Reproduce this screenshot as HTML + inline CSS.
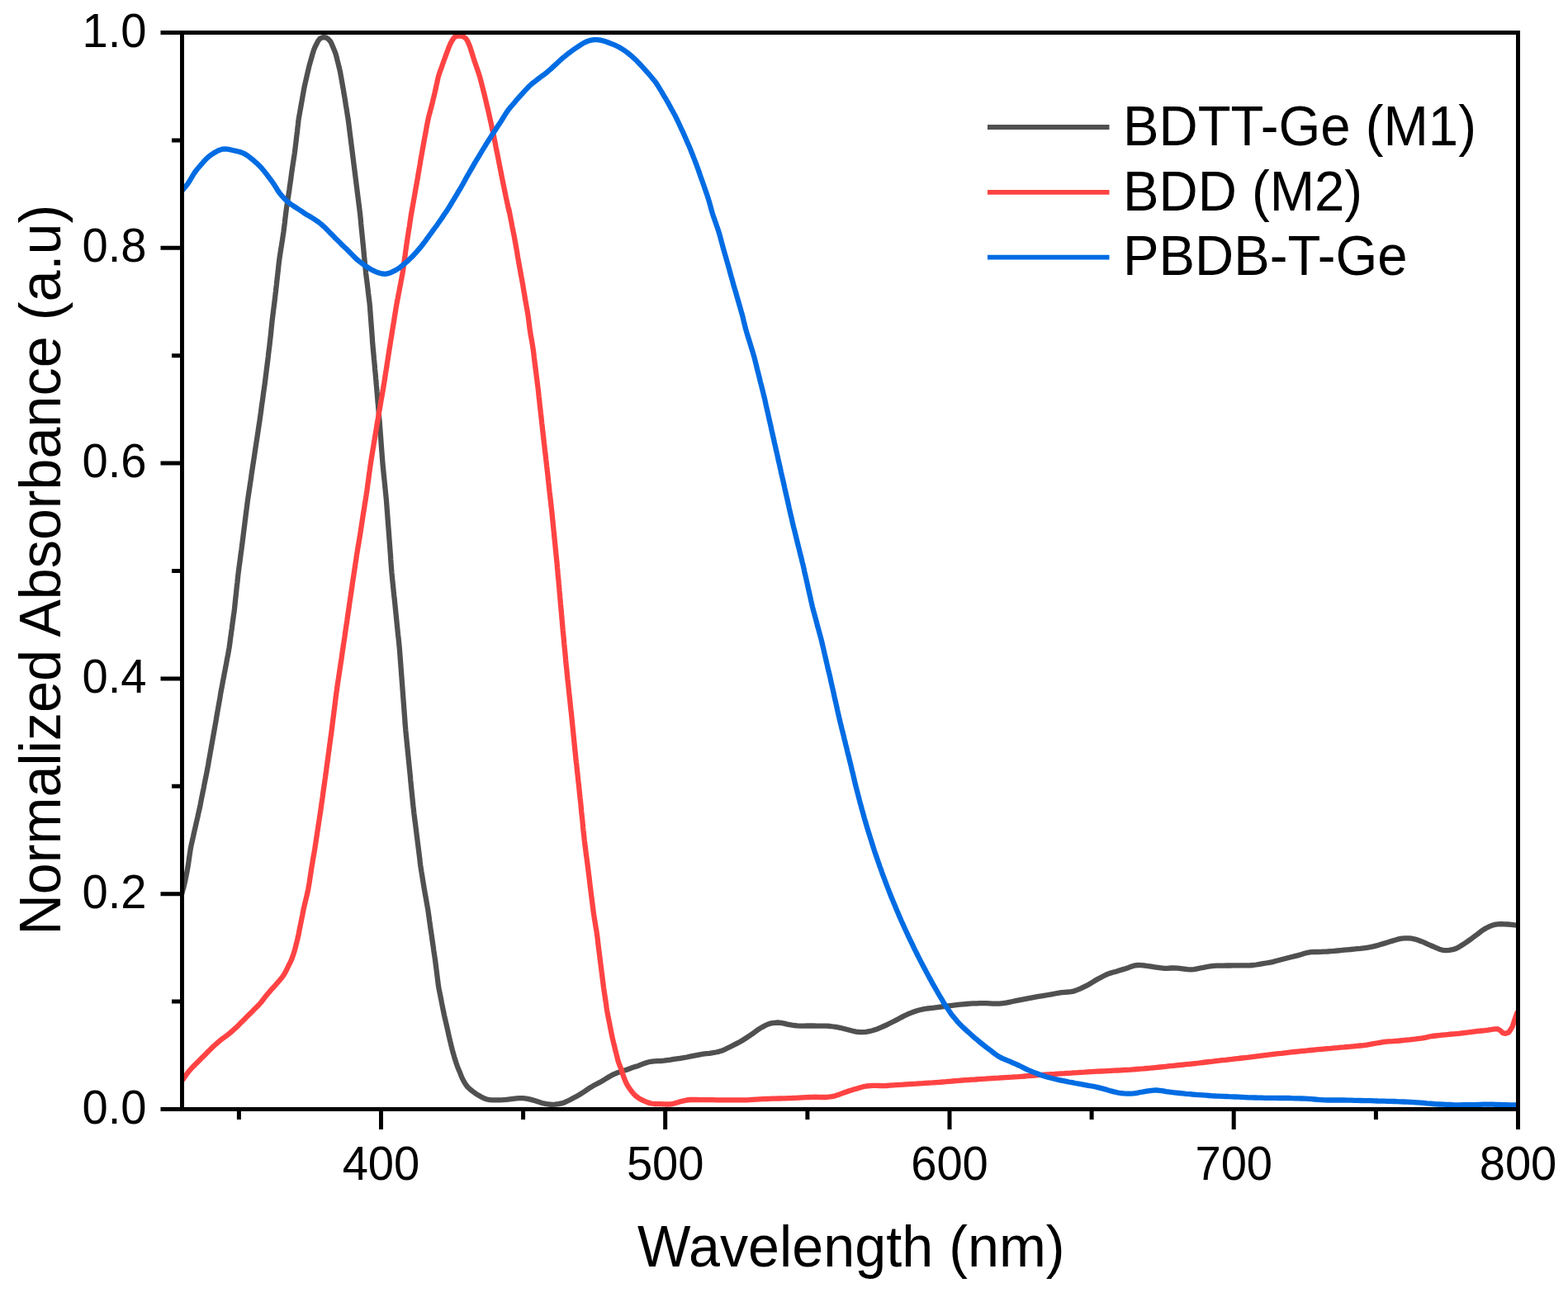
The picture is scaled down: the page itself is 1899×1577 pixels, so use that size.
<!DOCTYPE html>
<html><head><meta charset="utf-8"><title>Normalized Absorbance vs Wavelength</title><style>html,body{margin:0;padding:0;background:#fff;overflow:hidden}svg{display:block}</style></head><body>
<svg width="1899" height="1577" viewBox="0 0 1899 1577">
<rect width="1899" height="1577" fill="#fff"/>
<defs><clipPath id="c"><rect x="220.5" y="31.5" width="1618.0" height="1312.0"/></clipPath></defs>
<path d="M220.0,1083.5 L221.0,1079.6 L222.1,1075.8 L223.1,1071.9 L224.0,1068.0 L224.8,1064.1 L225.6,1060.2 L226.4,1056.2 L227.1,1052.3 L227.8,1048.4 L228.4,1044.4 L228.9,1040.5 L229.5,1036.5 L230.1,1032.5 L230.7,1028.6 L231.4,1024.6 L232.3,1020.7 L233.2,1016.8 L234.1,1012.9 L234.9,1009.0 L235.8,1005.1 L236.7,1001.2 L237.6,997.3 L238.5,993.4 L239.4,989.5 L240.2,985.6 L241.1,981.7 L242.0,977.8 L242.8,973.9 L243.5,970.0 L244.3,966.0 L245.1,962.1 L245.9,958.2 L246.7,954.3 L247.4,950.3 L248.2,946.4 L249.0,942.5 L249.8,938.6 L250.6,934.6 L251.3,930.7 L252.1,926.8 L252.7,922.8 L253.4,918.9 L254.1,915.0 L254.8,911.0 L255.5,907.1 L256.2,903.1 L256.9,899.2 L257.6,895.2 L258.3,891.3 L259.0,887.4 L259.7,883.4 L260.4,879.5 L261.1,875.5 L261.8,871.6 L262.4,867.7 L263.1,863.7 L263.8,859.8 L264.5,855.8 L265.2,851.9 L265.9,848.0 L266.6,844.0 L267.2,840.1 L267.9,836.1 L268.7,832.2 L269.4,828.3 L270.1,824.3 L270.9,820.4 L271.6,816.5 L272.4,812.5 L273.1,808.6 L273.9,804.7 L274.6,800.7 L275.3,796.8 L276.1,792.9 L276.8,788.9 L277.5,785.0 L278.1,781.0 L278.6,777.1 L279.1,773.1 L279.7,769.1 L280.2,765.2 L280.8,761.2 L281.3,757.2 L281.8,753.3 L282.4,749.3 L282.9,745.4 L283.5,741.4 L284.0,737.4 L284.4,733.4 L284.8,729.5 L285.2,725.5 L285.7,721.5 L286.1,717.5 L286.5,713.5 L286.9,709.6 L287.4,705.6 L287.8,701.6 L288.2,697.6 L288.7,693.7 L289.2,689.7 L289.7,685.7 L290.3,681.8 L290.8,677.8 L291.3,673.8 L291.8,669.9 L292.4,665.9 L292.9,661.9 L293.4,658.0 L293.9,654.0 L294.4,650.0 L294.9,646.0 L295.4,642.1 L295.9,638.1 L296.4,634.1 L296.9,630.2 L297.4,626.2 L297.9,622.2 L298.4,618.2 L298.9,614.3 L299.4,610.3 L299.9,606.4 L300.5,602.4 L301.1,598.4 L301.7,594.5 L302.3,590.5 L302.9,586.6 L303.5,582.6 L304.1,578.6 L304.6,574.7 L305.2,570.7 L305.8,566.8 L306.4,562.8 L307.0,558.9 L307.6,554.9 L308.2,551.0 L308.8,547.0 L309.4,543.0 L310.0,539.1 L310.6,535.1 L311.2,531.2 L311.8,527.2 L312.4,523.3 L313.0,519.3 L313.6,515.3 L314.2,511.4 L314.8,507.4 L315.3,503.5 L315.9,499.5 L316.4,495.5 L316.9,491.6 L317.5,487.6 L318.1,483.6 L318.6,479.7 L319.1,475.7 L319.7,471.8 L320.3,467.8 L320.8,463.8 L321.3,459.9 L321.8,455.9 L322.3,451.9 L322.8,447.9 L323.3,444.0 L323.8,440.0 L324.3,436.0 L324.8,432.1 L325.2,428.1 L325.7,424.1 L326.2,420.1 L326.7,416.2 L327.1,412.2 L327.6,408.2 L328.0,404.2 L328.4,400.3 L328.8,396.3 L329.2,392.3 L329.6,388.3 L330.1,384.4 L330.6,380.4 L331.1,376.4 L331.6,372.4 L332.1,368.5 L332.6,364.5 L333.1,360.5 L333.5,356.6 L334.0,352.6 L334.4,348.6 L334.9,344.6 L335.3,340.6 L335.8,336.7 L336.2,332.7 L336.7,328.7 L337.1,324.7 L337.5,320.8 L338.0,316.8 L338.5,312.8 L339.1,308.9 L339.7,304.9 L340.3,301.0 L341.0,297.0 L341.6,293.1 L342.2,289.1 L342.8,285.1 L343.4,281.2 L343.9,277.2 L344.4,273.2 L344.9,269.3 L345.3,265.3 L345.8,261.3 L346.3,257.4 L346.8,253.4 L347.4,249.4 L348.0,245.5 L348.6,241.5 L349.2,237.6 L349.8,233.6 L350.4,229.7 L350.9,225.7 L351.5,221.7 L352.1,217.8 L352.6,213.8 L353.1,209.8 L353.7,205.9 L354.3,201.9 L354.9,197.9 L355.5,194.0 L356.1,190.1 L356.7,186.1 L357.2,182.1 L357.7,178.2 L358.2,174.2 L358.7,170.2 L359.1,166.2 L359.6,162.3 L360.1,158.3 L360.5,154.3 L361.0,150.3 L361.4,146.4 L362.0,142.4 L362.7,138.5 L363.4,134.5 L364.1,130.6 L364.8,126.6 L365.5,122.7 L366.2,118.8 L366.9,114.8 L367.6,110.9 L368.3,106.9 L369.1,103.0 L370.0,99.1 L370.9,95.2 L371.8,91.3 L372.7,87.4 L373.6,83.5 L374.5,79.6 L375.6,75.8 L376.7,71.9 L377.8,68.1 L378.9,64.2 L380.1,60.4 L381.6,56.7 L383.4,53.2 L385.2,49.6 L387.5,46.6 L391.2,45.1 L394.7,45.4 L398.0,47.7 L400.5,50.6 L402.1,54.3 L403.7,58.0 L405.3,61.7 L406.6,65.4 L407.7,69.3 L408.6,73.2 L409.6,77.0 L410.5,80.9 L411.5,84.8 L412.3,88.7 L413.0,92.7 L413.7,96.6 L414.4,100.6 L415.1,104.5 L415.8,108.4 L416.4,112.4 L417.1,116.3 L417.8,120.3 L418.4,124.2 L419.0,128.2 L419.7,132.1 L420.3,136.1 L420.9,140.0 L421.6,144.0 L422.1,147.9 L422.6,151.9 L423.1,155.9 L423.6,159.9 L424.1,163.8 L424.6,167.8 L425.1,171.8 L425.6,175.7 L426.1,179.7 L426.6,183.7 L427.1,187.7 L427.6,191.6 L428.1,195.6 L428.6,199.6 L429.1,203.5 L429.6,207.5 L430.1,211.5 L430.6,215.4 L431.1,219.4 L431.6,223.4 L432.1,227.3 L432.6,231.3 L433.1,235.3 L433.6,239.2 L434.1,243.2 L434.6,247.2 L435.1,251.2 L435.6,255.1 L436.1,259.1 L436.5,263.1 L436.9,267.1 L437.2,271.1 L437.6,275.0 L438.0,279.0 L438.4,283.0 L438.8,287.0 L439.2,291.0 L439.6,294.9 L440.0,298.9 L440.4,302.9 L440.7,306.9 L441.1,310.9 L441.5,314.9 L441.9,318.8 L442.3,322.8 L442.7,326.8 L443.1,330.8 L443.6,334.8 L444.1,338.7 L444.6,342.7 L445.1,346.7 L445.6,350.6 L446.0,354.6 L446.5,358.6 L447.0,362.6 L447.5,366.5 L447.9,370.5 L448.2,374.5 L448.5,378.5 L448.8,382.5 L449.1,386.5 L449.4,390.5 L449.7,394.4 L450.0,398.4 L450.3,402.4 L450.6,406.4 L450.9,410.4 L451.1,414.4 L451.5,418.4 L451.8,422.4 L452.2,426.4 L452.6,430.4 L452.9,434.3 L453.3,438.3 L453.7,442.3 L454.0,446.3 L454.4,450.3 L454.8,454.2 L455.1,458.2 L455.5,462.2 L455.8,466.2 L456.2,470.2 L456.5,474.2 L456.9,478.2 L457.2,482.2 L457.5,486.1 L457.9,490.1 L458.2,494.1 L458.6,498.1 L458.9,502.1 L459.2,506.1 L459.6,510.1 L459.9,514.0 L460.2,518.0 L460.5,522.0 L460.8,526.0 L461.1,530.0 L461.4,534.0 L461.7,538.0 L462.0,542.0 L462.3,546.0 L462.6,550.0 L462.9,554.0 L463.2,558.0 L463.5,561.9 L463.9,565.9 L464.3,569.9 L464.7,573.9 L465.1,577.9 L465.5,581.8 L465.9,585.8 L466.3,589.8 L466.7,593.8 L467.1,597.8 L467.5,601.8 L467.9,605.7 L468.2,609.7 L468.5,613.7 L468.8,617.7 L469.1,621.7 L469.4,625.7 L469.7,629.7 L470.0,633.7 L470.3,637.6 L470.6,641.6 L470.9,645.6 L471.2,649.6 L471.5,653.6 L471.8,657.6 L472.1,661.6 L472.4,665.6 L472.7,669.6 L473.0,673.6 L473.2,677.5 L473.5,681.5 L473.8,685.5 L474.1,689.5 L474.4,693.5 L474.8,697.5 L475.2,701.5 L475.6,705.5 L476.0,709.4 L476.4,713.4 L476.8,717.4 L477.2,721.4 L477.7,725.4 L478.1,729.3 L478.5,733.3 L478.9,737.3 L479.3,741.3 L479.7,745.3 L480.1,749.2 L480.5,753.2 L480.9,757.2 L481.3,761.2 L481.7,765.2 L482.1,769.1 L482.6,773.1 L483.0,777.1 L483.4,781.1 L483.8,785.1 L484.1,789.0 L484.4,793.0 L484.7,797.0 L485.0,801.0 L485.3,805.0 L485.6,809.0 L485.9,813.0 L486.2,817.0 L486.5,821.0 L486.8,825.0 L487.1,829.0 L487.4,833.0 L487.7,836.9 L488.0,840.9 L488.3,844.9 L488.6,848.9 L488.9,852.9 L489.2,856.9 L489.5,860.9 L489.8,864.9 L490.1,868.9 L490.4,872.9 L490.6,876.8 L491.0,880.8 L491.3,884.8 L491.7,888.8 L492.1,892.8 L492.5,896.8 L492.9,900.7 L493.3,904.7 L493.7,908.7 L494.1,912.7 L494.5,916.7 L494.9,920.6 L495.3,924.6 L495.7,928.6 L496.1,932.6 L496.5,936.6 L496.9,940.6 L497.2,944.5 L497.6,948.5 L498.0,952.5 L498.4,956.5 L498.8,960.5 L499.2,964.5 L499.6,968.4 L500.0,972.4 L500.4,976.4 L500.9,980.4 L501.3,984.3 L501.8,988.3 L502.3,992.3 L502.8,996.2 L503.3,1000.2 L503.8,1004.2 L504.3,1008.2 L504.8,1012.1 L505.3,1016.1 L505.8,1020.1 L506.3,1024.0 L506.8,1028.0 L507.3,1032.0 L507.8,1036.0 L508.3,1039.9 L508.7,1043.9 L509.2,1047.9 L509.8,1051.8 L510.4,1055.8 L511.1,1059.7 L511.7,1063.7 L512.3,1067.6 L513.0,1071.6 L513.6,1075.5 L514.3,1079.5 L515.0,1083.4 L515.7,1087.3 L516.4,1091.3 L517.1,1095.2 L517.8,1099.2 L518.5,1103.1 L519.0,1107.1 L519.6,1111.0 L520.1,1115.0 L520.7,1119.0 L521.2,1122.9 L521.8,1126.9 L522.4,1130.8 L523.0,1134.8 L523.5,1138.8 L524.1,1142.7 L524.7,1146.7 L525.2,1150.7 L525.8,1154.6 L526.4,1158.6 L527.0,1162.5 L527.5,1166.5 L528.0,1170.5 L528.5,1174.4 L529.0,1178.4 L529.5,1182.4 L530.0,1186.3 L530.5,1190.3 L531.0,1194.3 L531.7,1198.2 L532.5,1202.2 L533.3,1206.1 L534.1,1210.0 L534.8,1213.9 L535.6,1217.8 L536.4,1221.8 L537.2,1225.7 L538.0,1229.6 L538.9,1233.5 L539.8,1237.4 L540.7,1241.3 L541.6,1245.2 L542.5,1249.1 L543.3,1253.0 L544.2,1256.9 L545.1,1260.8 L546.1,1264.7 L547.0,1268.6 L548.0,1272.5 L549.1,1276.3 L550.2,1280.2 L551.4,1284.0 L552.6,1287.8 L553.9,1291.6 L555.4,1295.3 L557.0,1299.0 L558.4,1302.7 L560.0,1306.4 L561.8,1309.9 L563.9,1313.3 L566.3,1316.5 L569.2,1319.2 L572.3,1321.7 L575.5,1324.1 L578.9,1326.3 L582.3,1328.3 L585.9,1330.1 L589.6,1331.5 L593.4,1332.2 L597.4,1332.4 L601.4,1332.4 L605.4,1332.4 L609.4,1332.2 L613.4,1331.8 L617.4,1331.3 L621.4,1330.8 L625.3,1330.4 L629.3,1330.2 L633.3,1330.2 L637.3,1330.6 L641.2,1331.4 L645.0,1332.4 L648.9,1333.5 L652.7,1334.8 L656.5,1336.0 L660.4,1336.9 L664.3,1337.5 L668.3,1337.8 L672.3,1337.7 L676.2,1337.2 L680.1,1336.4 L683.9,1335.2 L687.5,1333.5 L691.1,1331.7 L694.6,1329.8 L698.1,1327.9 L701.6,1325.9 L705.1,1323.8 L708.4,1321.7 L711.7,1319.4 L715.0,1317.2 L718.5,1315.1 L722.0,1313.2 L725.5,1311.4 L729.0,1309.5 L732.5,1307.4 L735.9,1305.3 L739.3,1303.2 L742.8,1301.4 L746.5,1299.8 L750.3,1298.4 L754.1,1297.3 L757.9,1296.1 L761.6,1294.7 L765.4,1293.3 L769.2,1292.1 L773.0,1290.9 L776.7,1289.4 L780.4,1287.9 L784.2,1286.7 L788.1,1285.8 L792.1,1285.4 L796.1,1285.2 L800.1,1285.0 L804.1,1284.7 L808.0,1284.2 L812.0,1283.6 L815.9,1282.9 L819.9,1282.3 L823.8,1281.8 L827.8,1281.2 L831.7,1280.5 L835.6,1279.7 L839.6,1278.9 L843.5,1278.1 L847.4,1277.3 L851.4,1276.7 L855.3,1276.2 L859.3,1275.8 L863.3,1275.2 L867.2,1274.5 L871.1,1273.6 L874.9,1272.4 L878.5,1270.8 L882.1,1269.0 L885.7,1267.2 L889.3,1265.4 L892.8,1263.6 L896.4,1261.8 L899.8,1259.7 L903.2,1257.5 L906.5,1255.3 L909.8,1253.1 L913.1,1250.8 L916.3,1248.4 L919.6,1246.1 L923.0,1244.1 L926.6,1242.2 L930.2,1240.5 L934.0,1239.4 L937.9,1238.8 L941.9,1238.5 L945.8,1238.8 L949.7,1239.6 L953.6,1240.6 L957.6,1241.3 L961.5,1242.0 L965.5,1242.4 L969.5,1242.7 L973.5,1242.6 L977.5,1242.5 L981.5,1242.5 L985.5,1242.5 L989.5,1242.6 L993.5,1242.6 L997.5,1242.6 L1001.5,1242.7 L1005.5,1243.0 L1009.4,1243.5 L1013.4,1244.0 L1017.3,1244.8 L1021.2,1245.7 L1025.1,1246.7 L1029.0,1247.7 L1032.8,1248.7 L1036.7,1249.6 L1040.7,1250.0 L1044.7,1250.1 L1048.7,1249.8 L1052.6,1249.2 L1056.5,1248.3 L1060.3,1247.1 L1064.0,1245.7 L1067.7,1244.1 L1071.3,1242.5 L1075.0,1240.8 L1078.5,1239.0 L1082.1,1237.2 L1085.7,1235.4 L1089.2,1233.5 L1092.8,1231.6 L1096.3,1229.8 L1100.0,1228.2 L1103.7,1226.6 L1107.4,1225.2 L1111.2,1224.0 L1115.1,1223.0 L1119.0,1222.1 L1122.9,1221.5 L1126.9,1221.1 L1130.9,1220.7 L1134.9,1220.2 L1138.8,1219.6 L1142.8,1219.1 L1146.8,1218.6 L1150.7,1218.1 L1154.7,1217.6 L1158.7,1217.1 L1162.7,1216.7 L1166.6,1216.3 L1170.6,1216.0 L1174.6,1215.7 L1178.6,1215.4 L1182.6,1215.3 L1186.6,1215.1 L1190.6,1215.1 L1194.6,1215.2 L1198.6,1215.4 L1202.6,1215.6 L1206.6,1215.7 L1210.6,1215.6 L1214.6,1215.2 L1218.5,1214.6 L1222.4,1213.8 L1226.3,1213.0 L1230.3,1212.2 L1234.2,1211.4 L1238.1,1210.6 L1242.0,1209.9 L1246.0,1209.1 L1249.9,1208.3 L1253.8,1207.6 L1257.8,1206.9 L1261.7,1206.3 L1265.7,1205.7 L1269.6,1205.0 L1273.5,1204.3 L1277.5,1203.5 L1281.4,1202.8 L1285.4,1202.2 L1289.3,1201.8 L1293.3,1201.5 L1297.3,1201.1 L1301.2,1200.3 L1304.9,1198.9 L1308.6,1197.3 L1312.2,1195.6 L1315.8,1193.9 L1319.3,1192.0 L1322.8,1189.9 L1326.2,1187.8 L1329.6,1185.8 L1333.1,1183.9 L1336.7,1182.0 L1340.3,1180.3 L1344.0,1178.9 L1347.8,1177.8 L1351.7,1176.7 L1355.5,1175.5 L1359.3,1174.4 L1363.2,1173.2 L1367.0,1171.9 L1370.7,1170.5 L1374.5,1169.4 L1378.4,1169.0 L1382.4,1169.2 L1386.4,1169.5 L1390.4,1170.1 L1394.3,1170.7 L1398.3,1171.3 L1402.3,1171.9 L1406.2,1172.4 L1410.2,1172.8 L1414.2,1172.8 L1418.2,1172.5 L1422.2,1172.4 L1426.1,1172.6 L1430.1,1173.1 L1434.1,1173.6 L1438.1,1174.1 L1442.0,1174.4 L1446.0,1174.1 L1449.9,1173.4 L1453.8,1172.5 L1457.8,1171.8 L1461.7,1171.0 L1465.6,1170.4 L1469.6,1169.9 L1473.6,1169.7 L1477.6,1169.6 L1481.6,1169.6 L1485.6,1169.5 L1489.6,1169.5 L1493.6,1169.4 L1497.6,1169.4 L1501.6,1169.4 L1505.6,1169.4 L1509.6,1169.4 L1513.6,1169.4 L1517.6,1169.0 L1521.5,1168.5 L1525.5,1167.8 L1529.4,1167.1 L1533.4,1166.5 L1537.3,1165.9 L1541.2,1165.1 L1545.1,1164.0 L1549.0,1163.0 L1552.8,1162.0 L1556.7,1161.0 L1560.6,1160.0 L1564.5,1159.0 L1568.3,1158.1 L1572.2,1157.1 L1576.1,1156.0 L1579.9,1154.8 L1583.8,1153.8 L1587.7,1153.2 L1591.7,1153.0 L1595.7,1153.0 L1599.7,1152.9 L1603.7,1152.7 L1607.7,1152.5 L1611.7,1152.2 L1615.6,1151.9 L1619.6,1151.5 L1623.6,1151.1 L1627.6,1150.7 L1631.6,1150.3 L1635.5,1150.0 L1639.5,1149.6 L1643.5,1149.2 L1647.5,1148.8 L1651.5,1148.3 L1655.4,1147.8 L1659.4,1147.2 L1663.3,1146.4 L1667.2,1145.4 L1671.0,1144.2 L1674.8,1143.1 L1678.7,1141.9 L1682.5,1140.7 L1686.3,1139.6 L1690.2,1138.5 L1694.0,1137.4 L1697.9,1136.6 L1701.9,1136.3 L1705.9,1136.3 L1709.8,1136.7 L1713.7,1137.6 L1717.5,1138.8 L1721.3,1140.2 L1725.0,1141.7 L1728.6,1143.3 L1732.3,1145.0 L1736.0,1146.5 L1739.6,1148.2 L1743.3,1149.7 L1747.2,1150.8 L1751.1,1151.2 L1755.1,1150.9 L1759.0,1150.2 L1762.8,1149.1 L1766.4,1147.4 L1769.8,1145.3 L1773.2,1143.1 L1776.5,1140.9 L1779.7,1138.6 L1783.0,1136.2 L1786.2,1133.8 L1789.4,1131.5 L1792.6,1129.0 L1795.8,1126.6 L1799.1,1124.5 L1802.7,1122.7 L1806.4,1121.1 L1810.2,1119.9 L1814.0,1119.3 L1818.0,1119.2 L1822.0,1119.3 L1826.0,1119.5 L1830.0,1119.9 L1834.0,1120.3 L1838.0,1120.6" fill="none" stroke="#505050" stroke-width="6.3" stroke-linejoin="round" stroke-linecap="butt" clip-path="url(#c)"/>
<path d="M220.0,1309.5 L222.3,1306.3 L224.7,1303.0 L227.0,1299.8 L229.5,1296.6 L232.2,1293.7 L235.0,1290.8 L237.8,1288.0 L240.6,1285.2 L243.5,1282.3 L246.3,1279.5 L249.1,1276.7 L251.9,1273.8 L254.8,1271.0 L257.6,1268.2 L260.6,1265.5 L263.6,1262.8 L266.6,1260.2 L269.8,1257.8 L273.0,1255.5 L276.2,1253.1 L279.3,1250.5 L282.3,1247.9 L285.3,1245.2 L288.2,1242.4 L291.0,1239.6 L293.8,1236.8 L296.6,1234.0 L299.5,1231.1 L302.3,1228.3 L305.1,1225.5 L308.0,1222.6 L310.8,1219.8 L313.6,1217.0 L316.2,1214.0 L318.7,1210.8 L321.1,1207.6 L323.6,1204.5 L326.2,1201.4 L328.8,1198.4 L331.6,1195.5 L334.2,1192.5 L336.8,1189.5 L339.4,1186.4 L342.0,1183.3 L344.2,1180.1 L346.1,1176.6 L347.9,1173.0 L349.6,1169.4 L351.4,1165.8 L353.1,1162.2 L354.5,1158.4 L355.8,1154.6 L356.9,1150.8 L358.0,1146.9 L358.9,1143.0 L359.9,1139.2 L360.8,1135.3 L361.7,1131.4 L362.4,1127.4 L363.2,1123.5 L364.0,1119.6 L364.8,1115.7 L365.6,1111.7 L366.4,1107.8 L367.1,1103.9 L367.9,1100.0 L368.8,1096.1 L369.7,1092.2 L370.7,1088.3 L371.7,1084.4 L372.5,1080.5 L373.3,1076.6 L374.0,1072.6 L374.7,1068.7 L375.3,1064.8 L375.9,1060.8 L376.5,1056.8 L377.1,1052.9 L377.7,1048.9 L378.4,1045.0 L379.0,1041.0 L379.7,1037.1 L380.4,1033.2 L381.1,1029.2 L381.7,1025.2 L382.3,1021.3 L382.9,1017.3 L383.5,1013.4 L384.1,1009.4 L384.7,1005.5 L385.3,1001.5 L385.9,997.6 L386.5,993.6 L387.1,989.6 L387.7,985.7 L388.3,981.7 L388.9,977.8 L389.4,973.8 L390.0,969.9 L390.6,965.9 L391.1,961.9 L391.6,958.0 L392.2,954.0 L392.8,950.0 L393.3,946.1 L393.9,942.1 L394.4,938.1 L395.0,934.2 L395.5,930.2 L396.0,926.3 L396.6,922.3 L397.1,918.3 L397.6,914.4 L398.2,910.4 L398.7,906.4 L399.2,902.5 L399.8,898.5 L400.3,894.5 L400.9,890.6 L401.4,886.6 L401.9,882.6 L402.4,878.7 L402.9,874.7 L403.4,870.7 L403.9,866.8 L404.4,862.8 L404.9,858.8 L405.4,854.9 L405.9,850.9 L406.4,846.9 L406.9,842.9 L407.4,839.0 L408.0,835.0 L408.5,831.0 L409.1,827.1 L409.7,823.1 L410.3,819.2 L410.9,815.2 L411.5,811.3 L412.1,807.3 L412.7,803.3 L413.3,799.4 L413.9,795.4 L414.4,791.5 L415.0,787.5 L415.6,783.6 L416.2,779.6 L416.8,775.6 L417.4,771.7 L417.9,767.7 L418.5,763.8 L419.1,759.8 L419.7,755.8 L420.3,751.9 L420.8,747.9 L421.4,744.0 L422.0,740.0 L422.6,736.0 L423.1,732.1 L423.7,728.1 L424.3,724.2 L424.9,720.2 L425.5,716.2 L426.1,712.3 L426.6,708.3 L427.2,704.4 L427.8,700.4 L428.4,696.5 L429.0,692.5 L429.6,688.5 L430.2,684.6 L430.8,680.6 L431.4,676.7 L431.9,672.7 L432.6,668.8 L433.2,664.8 L433.9,660.9 L434.6,656.9 L435.2,653.0 L435.9,649.0 L436.5,645.1 L437.1,641.1 L437.7,637.2 L438.3,633.2 L438.9,629.3 L439.5,625.3 L440.1,621.4 L440.8,617.4 L441.4,613.5 L442.0,609.5 L442.7,605.6 L443.3,601.6 L443.9,597.6 L444.5,593.7 L445.0,589.7 L445.5,585.8 L446.1,581.8 L446.6,577.8 L447.1,573.9 L447.7,569.9 L448.2,565.9 L448.8,562.0 L449.4,558.0 L450.0,554.1 L450.7,550.1 L451.3,546.2 L452.0,542.2 L452.6,538.3 L453.3,534.3 L453.9,530.4 L454.6,526.4 L455.2,522.5 L455.9,518.5 L456.5,514.6 L457.2,510.6 L457.9,506.7 L458.5,502.8 L459.2,498.8 L459.9,494.9 L460.6,490.9 L461.2,487.0 L461.9,483.0 L462.6,479.1 L463.3,475.1 L464.0,471.2 L464.6,467.3 L465.3,463.3 L465.9,459.4 L466.5,455.4 L467.1,451.4 L467.8,447.5 L468.4,443.5 L469.0,439.6 L469.6,435.6 L470.2,431.7 L470.8,427.7 L471.4,423.8 L472.1,419.8 L472.7,415.9 L473.3,411.9 L474.0,408.0 L474.6,404.0 L475.2,400.1 L475.9,396.1 L476.5,392.2 L477.2,388.2 L477.8,384.3 L478.4,380.3 L479.1,376.4 L479.7,372.4 L480.4,368.5 L481.1,364.5 L481.9,360.6 L482.6,356.7 L483.4,352.8 L484.1,348.8 L484.9,344.9 L485.6,341.0 L486.4,337.0 L487.1,333.1 L487.8,329.2 L488.4,325.2 L488.9,321.2 L489.5,317.3 L490.0,313.3 L490.6,309.4 L491.1,305.4 L491.7,301.4 L492.2,297.5 L492.8,293.5 L493.4,289.6 L494.0,285.6 L494.6,281.6 L495.2,277.7 L495.9,273.7 L496.4,269.8 L497.1,265.8 L497.6,261.9 L498.3,257.9 L499.0,254.0 L499.7,250.0 L500.4,246.1 L501.1,242.2 L501.8,238.2 L502.5,234.3 L503.2,230.3 L503.9,226.4 L504.6,222.5 L505.3,218.5 L506.0,214.6 L506.6,210.6 L507.3,206.7 L508.0,202.7 L508.7,198.8 L509.3,194.8 L510.0,190.9 L510.7,187.0 L511.4,183.0 L512.1,179.1 L512.8,175.2 L513.5,171.2 L514.2,167.3 L515.0,163.3 L515.7,159.4 L516.4,155.5 L517.1,151.5 L517.9,147.6 L518.7,143.7 L519.6,139.8 L520.7,135.9 L521.7,132.1 L522.7,128.2 L523.7,124.3 L524.6,120.4 L525.6,116.5 L526.5,112.7 L527.4,108.8 L528.2,104.8 L529.1,100.9 L529.9,97.0 L530.8,93.1 L532.0,89.3 L533.3,85.5 L534.7,81.8 L536.0,78.0 L537.4,74.2 L538.7,70.5 L540.1,66.7 L541.5,63.0 L542.9,59.2 L544.3,55.5 L546.0,51.9 L548.0,48.4 L550.3,45.2 L553.7,43.6 L557.7,43.5 L561.4,44.3 L564.4,46.8 L566.5,50.2 L568.1,53.9 L569.5,57.6 L570.7,61.5 L571.9,65.3 L573.1,69.1 L574.3,72.9 L575.6,76.7 L576.9,80.5 L578.2,84.3 L579.5,88.1 L580.7,91.9 L581.8,95.7 L582.8,99.6 L583.8,103.5 L584.8,107.3 L585.8,111.2 L586.8,115.1 L587.7,119.0 L588.6,122.9 L589.5,126.8 L590.5,130.7 L591.4,134.6 L592.3,138.5 L593.1,142.4 L594.0,146.3 L594.9,150.2 L595.7,154.1 L596.5,158.0 L597.4,161.9 L598.2,165.8 L599.0,169.8 L599.8,173.7 L600.5,177.6 L601.3,181.5 L602.1,185.4 L602.9,189.4 L603.7,193.3 L604.4,197.2 L605.2,201.2 L606.0,205.1 L606.8,209.0 L607.5,212.9 L608.3,216.9 L609.1,220.8 L609.9,224.7 L610.7,228.6 L611.5,232.5 L612.3,236.5 L613.1,240.4 L614.0,244.3 L614.8,248.2 L615.7,252.4 L616.6,256.4 L617.1,258.1 L616.7,256.1 L616.1,252.7 L616.0,252.2 L616.6,255.2 L617.5,259.5 L618.2,263.5 L619.0,267.4 L619.8,271.4 L620.5,275.3 L621.3,279.2 L622.1,283.1 L622.9,287.0 L623.6,291.0 L624.3,294.9 L625.0,298.9 L625.7,302.8 L626.4,306.8 L627.0,310.7 L627.7,314.6 L628.4,318.6 L629.1,322.5 L629.8,326.5 L630.5,330.4 L631.2,334.3 L632.0,338.3 L632.7,342.2 L633.4,346.1 L634.0,350.1 L634.7,354.0 L635.4,358.0 L636.0,361.9 L636.7,365.9 L637.4,369.8 L638.1,373.8 L638.8,377.7 L639.4,381.6 L640.0,385.6 L640.5,389.6 L641.0,393.5 L641.5,397.5 L642.1,401.5 L642.7,405.4 L643.4,409.4 L644.1,413.3 L644.8,417.2 L645.4,421.2 L646.0,425.1 L646.5,429.1 L646.9,433.1 L647.4,437.1 L647.9,441.0 L648.4,445.0 L648.9,449.0 L649.4,452.9 L649.9,456.9 L650.4,460.9 L650.9,464.9 L651.4,468.8 L651.9,472.8 L652.3,476.8 L652.7,480.8 L653.2,484.7 L653.6,488.7 L654.0,492.7 L654.5,496.7 L654.9,500.6 L655.4,504.6 L655.8,508.6 L656.2,512.6 L656.7,516.5 L657.1,520.5 L657.6,524.5 L658.0,528.5 L658.5,532.5 L658.9,536.4 L659.4,540.4 L659.8,544.4 L660.3,548.4 L660.8,552.3 L661.2,556.3 L661.7,560.3 L662.1,564.3 L662.6,568.2 L663.0,572.2 L663.5,576.2 L663.9,580.2 L664.3,584.1 L664.8,588.1 L665.2,592.1 L665.6,596.1 L666.1,600.0 L666.5,604.0 L667.0,608.0 L667.4,612.0 L667.9,616.0 L668.3,619.9 L668.7,623.9 L669.1,627.9 L669.5,631.9 L669.9,635.9 L670.3,639.8 L670.7,643.8 L671.1,647.8 L671.5,651.8 L671.9,655.8 L672.3,659.7 L672.7,663.7 L673.1,667.7 L673.5,671.7 L673.9,675.7 L674.3,679.6 L674.7,683.6 L675.0,687.6 L675.4,691.6 L675.7,695.6 L676.1,699.6 L676.5,703.6 L676.8,707.5 L677.2,711.5 L677.5,715.5 L677.9,719.5 L678.2,723.5 L678.6,727.5 L678.9,731.5 L679.3,735.4 L679.6,739.4 L680.0,743.4 L680.3,747.4 L680.7,751.4 L681.0,755.4 L681.4,759.4 L681.7,763.3 L682.1,767.3 L682.5,771.3 L682.9,775.3 L683.2,779.3 L683.6,783.3 L684.0,787.2 L684.4,791.2 L684.8,795.2 L685.1,799.2 L685.5,803.2 L685.9,807.2 L686.3,811.1 L686.7,815.1 L687.1,819.1 L687.5,823.1 L688.0,827.1 L688.4,831.0 L688.8,835.0 L689.2,839.0 L689.6,843.0 L690.1,847.0 L690.5,850.9 L690.9,854.9 L691.3,858.9 L691.8,862.9 L692.2,866.9 L692.6,870.8 L693.0,874.8 L693.4,878.8 L693.8,882.8 L694.2,886.8 L694.6,890.7 L695.0,894.7 L695.4,898.7 L695.8,902.7 L696.2,906.7 L696.6,910.6 L697.0,914.6 L697.4,918.6 L697.8,922.6 L698.3,926.5 L698.7,930.5 L699.1,934.5 L699.6,938.5 L700.0,942.5 L700.4,946.4 L700.9,950.4 L701.3,954.4 L701.7,958.4 L702.1,962.4 L702.5,966.3 L703.0,970.3 L703.4,974.3 L703.8,978.3 L704.1,982.3 L704.5,986.2 L705.0,990.2 L705.4,994.2 L705.8,998.2 L706.1,1002.2 L706.5,1006.1 L707.0,1010.1 L707.4,1014.1 L707.8,1018.1 L708.3,1022.0 L708.8,1026.0 L709.3,1030.0 L709.8,1034.0 L710.3,1037.9 L710.9,1041.9 L711.4,1045.9 L711.9,1049.8 L712.4,1053.8 L712.9,1057.8 L713.4,1061.8 L713.9,1065.7 L714.3,1069.7 L714.8,1073.7 L715.3,1077.6 L715.8,1081.6 L716.3,1085.6 L716.8,1089.5 L717.3,1093.5 L717.8,1097.5 L718.3,1101.5 L718.8,1105.4 L719.4,1109.4 L720.0,1113.3 L720.7,1117.3 L721.3,1121.2 L722.0,1125.2 L722.6,1129.1 L723.2,1133.1 L723.7,1137.0 L724.1,1141.0 L724.6,1145.0 L725.1,1149.0 L725.6,1152.9 L726.1,1156.9 L726.6,1160.9 L727.1,1164.8 L727.6,1168.8 L728.1,1172.8 L728.6,1176.8 L729.1,1180.7 L729.6,1184.7 L730.1,1188.7 L730.6,1192.6 L731.1,1196.6 L731.7,1200.6 L732.3,1204.5 L732.9,1208.5 L733.5,1212.4 L734.1,1216.4 L734.6,1220.4 L735.2,1224.3 L735.9,1228.2 L736.7,1232.2 L737.5,1236.1 L738.3,1240.0 L739.0,1244.0 L739.8,1247.9 L740.6,1251.8 L741.4,1255.7 L742.3,1259.6 L743.2,1263.5 L744.2,1267.4 L745.1,1271.3 L746.1,1275.2 L747.1,1279.0 L748.0,1283.0 L749.1,1286.7 L750.4,1290.1 L751.7,1293.4 L753.0,1297.1 L754.2,1300.9 L755.5,1304.7 L757.0,1308.5 L758.6,1312.1 L760.5,1315.5 L762.8,1318.9 L765.1,1322.1 L767.7,1325.2 L770.6,1327.9 L773.8,1330.2 L777.3,1332.2 L780.9,1333.9 L784.6,1335.4 L788.5,1336.5 L792.4,1337.0 L796.4,1337.2 L800.4,1337.2 L804.4,1337.3 L808.4,1337.5 L812.4,1337.3 L816.2,1336.6 L820.1,1335.4 L823.9,1334.3 L827.8,1333.4 L831.7,1332.5 L835.7,1332.0 L839.6,1331.8 L843.6,1332.0 L847.6,1332.2 L851.6,1332.2 L855.6,1332.2 L859.6,1332.2 L863.6,1332.2 L867.6,1332.3 L871.6,1332.3 L875.6,1332.3 L879.6,1332.3 L883.6,1332.3 L887.6,1332.3 L891.6,1332.3 L895.6,1332.3 L899.6,1332.3 L903.7,1332.3 L907.6,1332.2 L911.6,1331.9 L915.6,1331.6 L919.6,1331.4 L923.6,1331.2 L927.6,1331.0 L931.6,1330.8 L935.6,1330.7 L939.6,1330.6 L943.6,1330.5 L947.6,1330.4 L951.6,1330.3 L955.6,1330.1 L959.6,1330.0 L963.6,1329.8 L967.6,1329.6 L971.6,1329.4 L975.6,1329.2 L979.6,1329.0 L983.6,1328.8 L987.6,1328.7 L991.6,1328.8 L995.6,1329.0 L999.6,1329.0 L1003.5,1328.6 L1007.5,1328.1 L1011.4,1327.3 L1015.2,1326.1 L1018.9,1324.6 L1022.7,1323.2 L1026.5,1321.9 L1030.3,1320.8 L1034.1,1319.6 L1037.9,1318.4 L1041.8,1317.2 L1045.6,1316.2 L1049.5,1315.5 L1053.5,1315.1 L1057.5,1314.8 L1061.5,1314.8 L1065.5,1315.0 L1069.5,1315.1 L1073.5,1315.0 L1077.5,1314.7 L1081.5,1314.4 L1085.5,1314.1 L1089.5,1313.8 L1093.5,1313.6 L1097.4,1313.3 L1101.4,1313.1 L1105.4,1312.9 L1109.4,1312.7 L1113.4,1312.4 L1117.4,1312.2 L1121.4,1311.9 L1125.4,1311.6 L1129.4,1311.4 L1133.4,1311.1 L1137.4,1310.8 L1141.4,1310.5 L1145.3,1310.2 L1149.3,1309.8 L1153.3,1309.5 L1157.3,1309.1 L1161.3,1308.8 L1165.3,1308.5 L1169.3,1308.2 L1173.3,1308.0 L1177.3,1307.7 L1181.3,1307.5 L1185.2,1307.2 L1189.2,1306.9 L1193.2,1306.7 L1197.2,1306.4 L1201.2,1306.1 L1205.2,1305.8 L1209.2,1305.6 L1213.2,1305.3 L1217.2,1305.1 L1221.2,1304.9 L1225.2,1304.7 L1229.2,1304.4 L1233.2,1304.2 L1237.2,1303.9 L1241.2,1303.5 L1245.1,1303.2 L1249.1,1302.9 L1253.1,1302.6 L1257.1,1302.2 L1261.1,1302.0 L1265.1,1301.7 L1269.1,1301.4 L1273.1,1301.1 L1277.1,1300.9 L1281.0,1300.6 L1285.0,1300.3 L1289.0,1300.1 L1293.0,1299.8 L1297.0,1299.6 L1301.0,1299.3 L1305.0,1299.1 L1309.0,1298.8 L1313.0,1298.6 L1317.0,1298.3 L1321.0,1298.1 L1325.0,1297.9 L1329.0,1297.7 L1333.0,1297.5 L1337.0,1297.3 L1341.0,1297.1 L1345.0,1296.9 L1349.0,1296.7 L1353.0,1296.5 L1357.0,1296.3 L1360.9,1296.0 L1364.9,1295.8 L1368.9,1295.6 L1372.9,1295.3 L1376.9,1295.0 L1380.9,1294.7 L1384.9,1294.4 L1388.9,1294.0 L1392.9,1293.7 L1396.8,1293.3 L1400.8,1292.9 L1404.8,1292.5 L1408.8,1292.1 L1412.8,1291.7 L1416.7,1291.2 L1420.7,1290.8 L1424.7,1290.4 L1428.7,1290.0 L1432.7,1289.6 L1436.7,1289.2 L1440.6,1288.8 L1444.6,1288.4 L1448.6,1288.0 L1452.5,1287.5 L1456.5,1287.0 L1460.5,1286.5 L1464.5,1286.0 L1468.4,1285.6 L1472.4,1285.1 L1476.4,1284.7 L1480.4,1284.2 L1484.3,1283.8 L1488.3,1283.3 L1492.3,1282.9 L1496.3,1282.4 L1500.2,1282.0 L1504.2,1281.5 L1508.2,1281.1 L1512.2,1280.7 L1516.2,1280.2 L1520.1,1279.7 L1524.1,1279.2 L1528.1,1278.7 L1532.0,1278.2 L1536.0,1277.7 L1540.0,1277.2 L1544.0,1276.7 L1547.9,1276.2 L1551.9,1275.8 L1555.9,1275.3 L1559.8,1274.8 L1563.8,1274.4 L1567.8,1274.0 L1571.8,1273.6 L1575.8,1273.2 L1579.7,1272.8 L1583.7,1272.4 L1587.7,1272.0 L1591.7,1271.6 L1595.7,1271.2 L1599.7,1270.8 L1603.6,1270.5 L1607.6,1270.1 L1611.6,1269.8 L1615.6,1269.4 L1619.6,1269.1 L1623.6,1268.7 L1627.5,1268.4 L1631.5,1268.0 L1635.5,1267.7 L1639.5,1267.3 L1643.5,1266.9 L1647.5,1266.5 L1651.5,1266.1 L1655.4,1265.6 L1659.4,1264.9 L1663.3,1264.2 L1667.2,1263.5 L1671.2,1262.8 L1675.1,1262.2 L1679.1,1261.7 L1683.1,1261.3 L1687.1,1261.1 L1691.1,1260.8 L1695.0,1260.5 L1699.0,1260.1 L1703.0,1259.7 L1707.0,1259.3 L1711.0,1258.8 L1715.0,1258.4 L1718.9,1257.9 L1722.9,1257.4 L1726.8,1256.6 L1730.7,1255.7 L1734.6,1255.0 L1738.6,1254.5 L1742.6,1254.1 L1746.6,1253.7 L1750.5,1253.3 L1754.5,1252.9 L1758.5,1252.5 L1762.5,1252.2 L1766.5,1251.8 L1770.5,1251.3 L1774.4,1250.8 L1778.4,1250.4 L1782.4,1249.9 L1786.3,1249.4 L1790.3,1248.9 L1794.3,1248.5 L1798.3,1248.2 L1802.2,1247.7 L1806.2,1247.0 L1810.2,1246.3 L1814.1,1246.3 L1817.3,1248.3 L1820.0,1251.2 L1823.4,1251.8 L1827.2,1250.6 L1829.3,1247.3 L1831.5,1243.9 L1832.8,1240.1 L1834.0,1236.3 L1835.3,1232.5 L1836.6,1228.8 L1838.0,1225.0" fill="none" stroke="#FF4343" stroke-width="6.3" stroke-linejoin="round" stroke-linecap="butt" clip-path="url(#c)"/>
<path d="M220.0,231.3 L222.7,228.3 L225.3,225.3 L227.7,222.1 L229.9,218.8 L231.9,215.3 L233.9,211.9 L236.1,208.5 L238.5,205.3 L241.1,202.3 L243.7,199.2 L246.3,196.2 L249.0,193.3 L251.9,190.5 L255.0,188.0 L258.3,185.8 L261.8,183.7 L265.3,181.9 L269.0,180.7 L273.0,180.4 L276.9,180.9 L280.8,181.8 L284.7,182.7 L288.6,183.5 L292.4,184.6 L296.0,186.2 L299.4,188.3 L302.7,190.7 L305.8,193.2 L308.8,195.8 L311.8,198.4 L314.6,201.2 L317.3,204.2 L319.9,207.3 L322.4,210.4 L324.8,213.6 L327.2,216.8 L329.6,220.0 L331.8,223.3 L334.0,226.7 L336.0,230.1 L338.3,233.4 L340.8,236.5 L343.4,239.5 L346.2,242.3 L349.2,245.0 L352.4,247.5 L355.7,249.7 L359.1,251.8 L362.4,254.0 L365.7,256.2 L369.0,258.5 L372.4,260.6 L375.9,262.6 L379.3,264.6 L382.7,266.8 L386.0,269.1 L389.1,271.6 L392.1,274.3 L394.9,277.0 L397.7,279.9 L400.5,282.8 L403.3,285.6 L406.1,288.5 L409.0,291.3 L411.8,294.1 L414.6,296.9 L417.6,299.7 L420.5,302.4 L423.3,305.2 L426.1,308.1 L428.9,311.0 L431.7,313.8 L434.8,316.3 L438.0,318.7 L441.2,321.1 L444.5,323.3 L447.9,325.4 L451.4,327.4 L455.0,329.1 L458.8,330.5 L462.6,331.5 L466.6,331.8 L470.5,331.1 L474.2,329.7 L477.8,327.9 L481.3,326.0 L484.6,323.8 L487.7,321.3 L490.8,318.7 L493.8,316.1 L496.7,313.3 L499.5,310.5 L502.2,307.6 L504.9,304.6 L507.5,301.6 L510.1,298.5 L512.5,295.3 L515.0,292.2 L517.3,288.9 L519.7,285.7 L522.0,282.5 L524.4,279.2 L526.7,276.0 L529.1,272.8 L531.4,269.5 L533.7,266.2 L536.0,262.9 L538.2,259.6 L540.5,256.3 L542.6,252.9 L544.8,249.6 L546.8,246.1 L548.9,242.7 L550.9,239.3 L553.0,235.8 L555.0,232.4 L557.1,229.0 L559.1,225.5 L561.1,222.0 L563.0,218.5 L564.9,215.0 L566.9,211.5 L568.9,208.0 L570.9,204.6 L572.9,201.1 L574.9,197.7 L576.9,194.2 L579.0,190.8 L581.1,187.4 L583.1,184.0 L585.2,180.5 L587.3,177.1 L589.4,173.7 L591.5,170.3 L593.7,166.9 L595.8,163.6 L598.0,160.2 L600.2,156.9 L602.4,153.6 L604.6,150.2 L606.8,146.9 L608.9,143.5 L611.0,140.1 L613.1,136.7 L615.4,133.4 L617.9,130.2 L620.5,127.2 L623.1,124.2 L625.6,121.1 L628.3,118.1 L631.0,115.1 L633.7,112.2 L636.4,109.2 L639.1,106.3 L641.9,103.5 L644.9,100.8 L648.1,98.4 L651.2,96.0 L654.4,93.5 L657.7,91.2 L660.9,88.8 L664.0,86.2 L667.0,83.6 L669.9,80.9 L672.9,78.2 L675.8,75.5 L678.7,72.8 L681.7,70.1 L684.8,67.6 L688.0,65.1 L691.1,62.7 L694.4,60.3 L697.7,58.0 L701.0,55.8 L704.3,53.6 L707.7,51.6 L711.4,50.0 L715.2,48.8 L719.1,48.2 L723.1,48.1 L727.1,48.6 L730.9,49.5 L734.7,50.8 L738.5,52.2 L742.2,53.6 L745.9,55.2 L749.5,57.0 L752.9,59.0 L756.2,61.2 L759.5,63.5 L762.6,66.0 L765.7,68.6 L768.6,71.3 L771.5,74.1 L774.3,77.0 L777.0,79.9 L779.7,82.8 L782.4,85.8 L785.0,88.8 L787.6,91.8 L790.2,94.9 L792.8,98.0 L795.1,101.2 L797.3,104.6 L799.3,108.0 L801.4,111.4 L803.4,114.9 L805.5,118.3 L807.5,121.8 L809.5,125.2 L811.4,128.7 L813.3,132.2 L815.3,135.7 L817.2,139.2 L819.0,142.8 L820.7,146.4 L822.4,150.0 L824.1,153.7 L825.8,157.3 L827.5,160.9 L829.1,164.6 L830.7,168.2 L832.3,171.9 L833.9,175.6 L835.5,179.3 L837.0,183.0 L838.5,186.7 L839.9,190.4 L841.4,194.1 L842.8,197.9 L844.2,201.6 L845.6,205.4 L846.9,209.1 L848.2,212.9 L849.5,216.7 L850.9,220.5 L852.2,224.2 L853.5,228.0 L854.8,231.8 L856.1,235.6 L857.4,239.4 L858.6,243.2 L859.7,247.1 L860.7,250.9 L861.8,254.8 L862.9,258.6 L864.1,262.4 L865.5,266.2 L866.8,270.0 L868.1,273.7 L869.4,277.5 L870.6,281.3 L871.8,285.2 L872.8,289.0 L873.8,292.9 L874.9,296.8 L875.9,300.6 L877.0,304.5 L878.1,308.3 L879.2,312.1 L880.3,316.0 L881.4,319.9 L882.5,323.7 L883.6,327.6 L884.6,331.4 L885.7,335.3 L886.8,339.1 L887.8,343.0 L888.9,346.8 L890.1,350.7 L891.2,354.5 L892.3,358.3 L893.4,362.2 L894.5,366.0 L895.6,369.9 L896.7,373.7 L897.8,377.6 L898.9,381.4 L899.9,385.3 L900.8,389.2 L901.8,393.1 L902.7,397.0 L903.8,400.8 L904.9,404.6 L906.1,408.5 L907.3,412.3 L908.5,416.1 L909.6,419.9 L910.8,423.8 L912.0,427.6 L913.1,431.4 L914.1,435.3 L915.1,439.2 L916.1,443.1 L917.0,446.9 L918.0,450.8 L919.0,454.7 L920.0,458.6 L920.9,462.5 L921.9,466.3 L922.9,470.2 L923.9,474.1 L924.8,478.0 L925.8,481.9 L926.7,485.8 L927.5,489.7 L928.4,493.6 L929.3,497.5 L930.2,501.4 L931.0,505.3 L931.9,509.2 L932.8,513.1 L933.7,517.0 L934.5,520.9 L935.4,524.8 L936.3,528.7 L937.2,532.6 L938.0,536.5 L938.9,540.4 L939.8,544.3 L940.7,548.2 L941.6,552.1 L942.4,556.0 L943.3,559.9 L944.2,563.8 L945.1,567.7 L945.9,571.6 L946.8,575.5 L947.7,579.4 L948.6,583.3 L949.5,587.2 L950.3,591.1 L951.2,595.0 L952.1,599.0 L953.0,602.9 L953.9,606.8 L954.8,610.7 L955.6,614.6 L956.5,618.5 L957.4,622.4 L958.3,626.3 L959.2,630.2 L960.1,634.1 L961.0,638.0 L962.0,641.8 L963.0,645.7 L963.9,649.6 L964.9,653.5 L965.8,657.4 L966.8,661.2 L967.8,665.1 L968.7,669.0 L969.7,672.9 L970.7,676.8 L971.6,680.7 L972.6,684.5 L973.5,688.4 L974.3,692.4 L975.2,696.2 L976.1,700.1 L977.0,704.1 L977.9,708.0 L978.7,711.9 L979.6,715.8 L980.5,719.7 L981.4,723.6 L982.2,727.5 L983.1,731.4 L984.0,735.3 L985.0,739.1 L986.1,743.0 L987.1,746.9 L988.2,750.7 L989.2,754.6 L990.2,758.5 L991.3,762.3 L992.3,766.2 L993.4,770.0 L994.4,773.9 L995.4,777.8 L996.3,781.7 L997.2,785.6 L998.1,789.5 L999.0,793.4 L999.9,797.3 L1000.8,801.2 L1001.7,805.1 L1002.6,809.0 L1003.5,812.9 L1004.5,816.8 L1005.4,820.6 L1006.2,824.5 L1007.1,828.5 L1008.0,832.4 L1008.9,836.3 L1009.8,840.2 L1010.6,844.1 L1011.5,848.0 L1012.4,851.9 L1013.3,855.8 L1014.1,859.7 L1015.0,863.6 L1015.9,867.5 L1016.8,871.4 L1017.7,875.3 L1018.7,879.1 L1019.6,883.0 L1020.6,886.9 L1021.6,890.8 L1022.5,894.7 L1023.5,898.6 L1024.4,902.5 L1025.4,906.3 L1026.3,910.2 L1027.3,914.1 L1028.3,918.0 L1029.2,921.9 L1030.2,925.8 L1031.1,929.6 L1032.0,933.5 L1033.0,937.4 L1033.9,941.3 L1034.8,945.2 L1035.7,949.1 L1036.7,953.0 L1037.7,956.9 L1038.7,960.8 L1039.7,964.6 L1040.7,968.5 L1041.7,972.4 L1042.8,976.2 L1043.8,980.1 L1044.9,983.9 L1046.0,987.8 L1047.0,991.6 L1048.2,995.5 L1049.3,999.3 L1050.4,1003.1 L1051.6,1007.0 L1052.8,1010.8 L1054.0,1014.6 L1055.2,1018.4 L1056.4,1022.2 L1057.6,1026.1 L1058.8,1029.9 L1060.1,1033.7 L1061.4,1037.4 L1062.7,1041.2 L1064.0,1045.0 L1065.3,1048.8 L1066.7,1052.5 L1068.0,1056.3 L1069.4,1060.1 L1070.8,1063.8 L1072.2,1067.6 L1073.6,1071.3 L1075.0,1075.0 L1076.5,1078.8 L1077.9,1082.5 L1079.4,1086.2 L1080.9,1089.9 L1082.4,1093.6 L1084.0,1097.3 L1085.5,1101.0 L1087.1,1104.7 L1088.6,1108.4 L1090.2,1112.0 L1091.8,1115.7 L1093.5,1119.4 L1095.1,1123.0 L1096.8,1126.7 L1098.5,1130.3 L1100.1,1133.9 L1101.8,1137.5 L1103.6,1141.1 L1105.3,1144.7 L1107.0,1148.3 L1108.8,1151.9 L1110.6,1155.5 L1112.4,1159.1 L1114.2,1162.6 L1116.0,1166.2 L1117.9,1169.8 L1119.8,1173.3 L1121.6,1176.8 L1123.5,1180.3 L1125.4,1183.9 L1127.4,1187.4 L1129.3,1190.9 L1131.3,1194.4 L1133.2,1197.8 L1135.2,1201.3 L1137.2,1204.8 L1139.2,1208.2 L1141.3,1211.7 L1143.3,1215.1 L1145.4,1218.5 L1147.7,1221.8 L1149.9,1225.1 L1152.2,1228.4 L1154.7,1231.5 L1157.3,1234.6 L1159.8,1237.7 L1162.5,1240.6 L1165.4,1243.4 L1168.3,1246.1 L1171.3,1248.8 L1174.3,1251.5 L1177.2,1254.2 L1180.2,1256.8 L1183.3,1259.4 L1186.4,1262.0 L1189.5,1264.5 L1192.6,1266.9 L1195.8,1269.4 L1199.0,1271.8 L1202.1,1274.2 L1205.3,1276.7 L1208.5,1279.0 L1212.0,1281.0 L1215.6,1282.6 L1219.3,1284.2 L1223.0,1285.7 L1226.7,1287.3 L1230.4,1288.9 L1234.0,1290.5 L1237.6,1292.3 L1241.2,1294.1 L1244.8,1295.8 L1248.5,1297.4 L1252.2,1298.9 L1255.9,1300.3 L1259.7,1301.7 L1263.5,1303.0 L1267.2,1304.2 L1271.1,1305.3 L1275.0,1306.3 L1278.9,1307.2 L1282.8,1308.1 L1286.7,1308.9 L1290.6,1309.7 L1294.5,1310.5 L1298.5,1311.2 L1302.4,1312.0 L1306.3,1312.7 L1310.3,1313.4 L1314.2,1314.1 L1318.2,1314.8 L1322.1,1315.5 L1326.0,1316.2 L1329.9,1317.1 L1333.8,1318.1 L1337.7,1319.1 L1341.5,1320.2 L1345.3,1321.4 L1349.2,1322.4 L1353.1,1323.3 L1357.0,1324.0 L1361.0,1324.4 L1365.0,1324.6 L1369.0,1324.6 L1373.0,1324.3 L1376.9,1323.8 L1380.8,1323.0 L1384.8,1322.4 L1388.7,1321.7 L1392.7,1321.2 L1396.7,1320.7 L1400.7,1320.5 L1404.6,1320.8 L1408.6,1321.4 L1412.5,1322.1 L1416.5,1322.7 L1420.5,1323.2 L1424.4,1323.6 L1428.4,1324.0 L1432.4,1324.4 L1436.4,1324.8 L1440.4,1325.1 L1444.3,1325.5 L1448.3,1325.8 L1452.3,1326.1 L1456.3,1326.4 L1460.3,1326.7 L1464.3,1327.0 L1468.3,1327.3 L1472.3,1327.5 L1476.3,1327.6 L1480.3,1327.8 L1484.3,1328.0 L1488.3,1328.2 L1492.3,1328.3 L1496.2,1328.5 L1500.2,1328.7 L1504.2,1328.9 L1508.2,1329.1 L1512.2,1329.3 L1516.2,1329.4 L1520.2,1329.5 L1524.2,1329.6 L1528.2,1329.7 L1532.2,1329.8 L1536.2,1329.9 L1540.2,1329.9 L1544.2,1329.9 L1548.2,1330.0 L1552.2,1330.0 L1556.2,1330.0 L1560.2,1330.0 L1564.2,1330.2 L1568.2,1330.3 L1572.2,1330.4 L1576.2,1330.5 L1580.2,1330.7 L1584.2,1330.9 L1588.2,1331.2 L1592.2,1331.5 L1596.2,1331.8 L1600.2,1332.1 L1604.2,1332.4 L1608.2,1332.5 L1612.2,1332.5 L1616.2,1332.5 L1620.2,1332.5 L1624.2,1332.5 L1628.2,1332.5 L1632.2,1332.6 L1636.2,1332.7 L1640.2,1332.8 L1644.2,1332.9 L1648.2,1333.0 L1652.2,1333.1 L1656.2,1333.2 L1660.2,1333.2 L1664.2,1333.3 L1668.2,1333.5 L1672.2,1333.6 L1676.2,1333.7 L1680.2,1333.8 L1684.2,1333.9 L1688.2,1334.0 L1692.2,1334.2 L1696.2,1334.3 L1700.1,1334.5 L1704.1,1334.7 L1708.1,1334.9 L1712.1,1335.1 L1716.1,1335.3 L1720.1,1335.6 L1724.1,1335.9 L1728.1,1336.3 L1732.1,1336.6 L1736.0,1337.0 L1740.0,1337.3 L1744.0,1337.5 L1748.0,1337.7 L1752.0,1337.9 L1756.0,1338.0 L1760.0,1338.2 L1764.0,1338.3 L1768.0,1338.3 L1772.0,1338.2 L1776.0,1338.2 L1780.0,1338.2 L1784.0,1338.1 L1788.0,1338.0 L1792.0,1337.8 L1796.0,1337.7 L1800.0,1337.6 L1804.0,1337.6 L1808.0,1337.7 L1812.0,1337.9 L1816.0,1338.0 L1820.0,1338.1 L1824.0,1338.2 L1828.0,1338.3 L1832.0,1338.4 L1836.0,1338.5 L1838.0,1338.5" fill="none" stroke="#006CE3" stroke-width="6.3" stroke-linejoin="round" stroke-linecap="butt" clip-path="url(#c)"/>
<rect x="220.5" y="39.5" width="1618.0" height="1304.0" fill="none" stroke="#000" stroke-width="5"/>
<path d="M461.5,1346.0 V1368.0 M805.7,1346.0 V1368.0 M1150.0,1346.0 V1368.0 M1494.2,1346.0 V1368.0 M1838.5,1346.0 V1368.0 M289.4,1346.0 V1356.0 M633.6,1346.0 V1356.0 M977.9,1346.0 V1356.0 M1322.1,1346.0 V1356.0 M1666.4,1346.0 V1356.0 M218.0,1343.5 H194.5 M218.0,1082.7 H194.5 M218.0,821.9 H194.5 M218.0,561.1 H194.5 M218.0,300.3 H194.5 M218.0,39.5 H194.5 M218.0,1213.1 H208.0 M218.0,952.3 H208.0 M218.0,691.5 H208.0 M218.0,430.7 H208.0 M218.0,169.9 H208.0" stroke="#000" stroke-width="5" fill="none"/>
<text transform="translate(461.48,1429.00) scale(0.9650,1)" font-family="&apos;Liberation Sans&apos;, Arial, sans-serif" font-size="58.20" text-anchor="middle">400</text>
<text transform="translate(805.73,1429.00) scale(0.9650,1)" font-family="&apos;Liberation Sans&apos;, Arial, sans-serif" font-size="58.20" text-anchor="middle">500</text>
<text transform="translate(1149.99,1429.00) scale(0.9650,1)" font-family="&apos;Liberation Sans&apos;, Arial, sans-serif" font-size="58.20" text-anchor="middle">600</text>
<text transform="translate(1494.24,1429.00) scale(0.9650,1)" font-family="&apos;Liberation Sans&apos;, Arial, sans-serif" font-size="58.20" text-anchor="middle">700</text>
<text transform="translate(1838.50,1429.00) scale(0.9650,1)" font-family="&apos;Liberation Sans&apos;, Arial, sans-serif" font-size="58.20" text-anchor="middle">800</text>
<text transform="translate(177.50,1360.50) scale(0.9650,1)" font-family="&apos;Liberation Sans&apos;, Arial, sans-serif" font-size="58.20" text-anchor="end">0.0</text>
<text transform="translate(177.50,1099.70) scale(0.9650,1)" font-family="&apos;Liberation Sans&apos;, Arial, sans-serif" font-size="58.20" text-anchor="end">0.2</text>
<text transform="translate(177.50,838.90) scale(0.9650,1)" font-family="&apos;Liberation Sans&apos;, Arial, sans-serif" font-size="58.20" text-anchor="end">0.4</text>
<text transform="translate(177.50,578.10) scale(0.9650,1)" font-family="&apos;Liberation Sans&apos;, Arial, sans-serif" font-size="58.20" text-anchor="end">0.6</text>
<text transform="translate(177.50,317.30) scale(0.9650,1)" font-family="&apos;Liberation Sans&apos;, Arial, sans-serif" font-size="58.20" text-anchor="end">0.8</text>
<text transform="translate(177.50,56.50) scale(0.9650,1)" font-family="&apos;Liberation Sans&apos;, Arial, sans-serif" font-size="58.20" text-anchor="end">1.0</text>
<text transform="translate(772.00,1533.50) scale(0.9760,1)" font-family="&apos;Liberation Sans&apos;, Arial, sans-serif" font-size="70.00" text-anchor="start">Wavelength (nm)</text>
<text transform="translate(72.50,1132.50) rotate(-90) scale(0.9760,1)" font-family="&apos;Liberation Sans&apos;, Arial, sans-serif" font-size="70.00" text-anchor="start">Normalized Absorbance (a.u)</text>
<line x1="1196" y1="154.0" x2="1343.5" y2="154.0" stroke="#505050" stroke-width="5.8" stroke-linecap="butt"/>
<text transform="translate(1360.00,175.70) scale(0.9600,1)" font-family="&apos;Liberation Sans&apos;, Arial, sans-serif" font-size="68.00" text-anchor="start">BDTT-Ge (M1)</text>
<line x1="1196" y1="232.8" x2="1343.5" y2="232.8" stroke="#FF4343" stroke-width="5.8" stroke-linecap="butt"/>
<text transform="translate(1360.00,254.50) scale(0.9600,1)" font-family="&apos;Liberation Sans&apos;, Arial, sans-serif" font-size="68.00" text-anchor="start">BDD (M2)</text>
<line x1="1196" y1="311.6" x2="1343.5" y2="311.6" stroke="#006CE3" stroke-width="5.8" stroke-linecap="butt"/>
<text transform="translate(1360.00,333.30) scale(0.9600,1)" font-family="&apos;Liberation Sans&apos;, Arial, sans-serif" font-size="68.00" text-anchor="start">PBDB-T-Ge</text>
</svg>
</body></html>
